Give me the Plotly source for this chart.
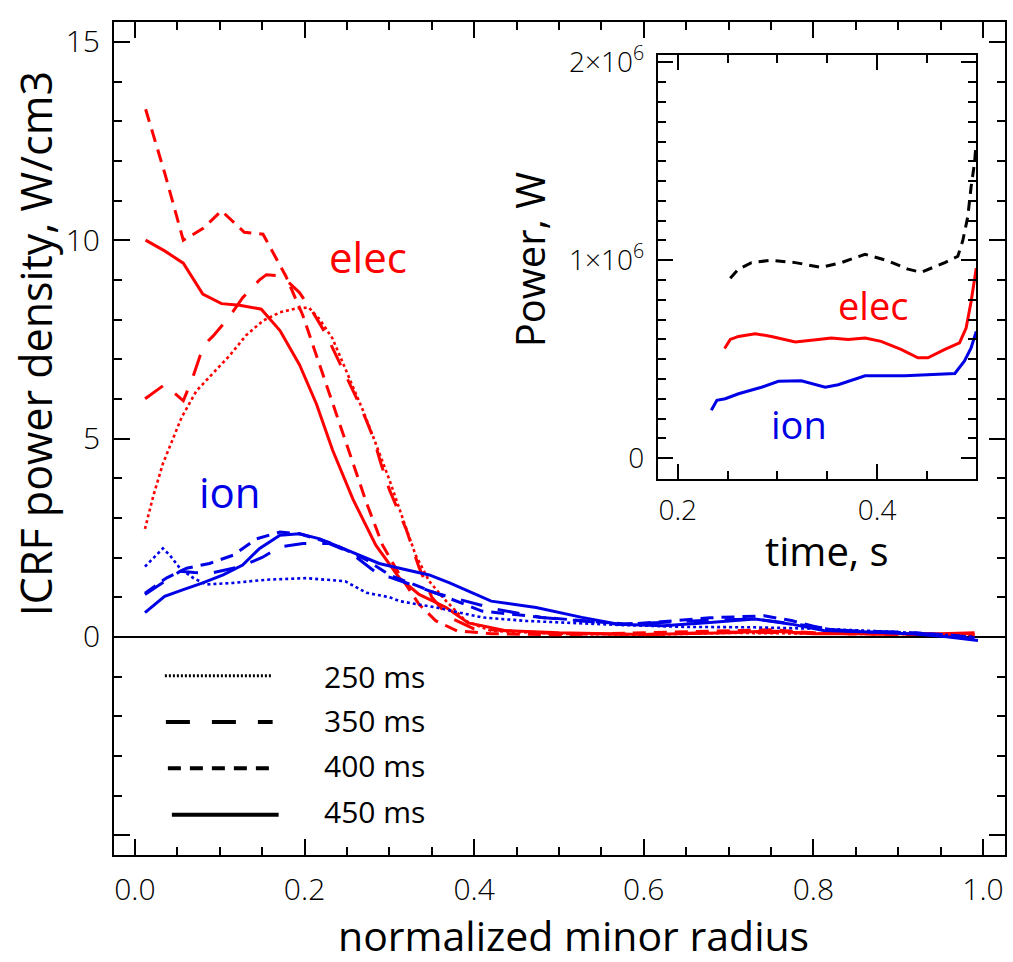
import plotly.graph_objects as go

# ---------------- radial power-density profiles (W/cm3) ----------------
# electron heating
e250_r = [0.0118, 0.0216, 0.033, 0.049, 0.055, 0.0725, 0.092, 0.112, 0.131, 0.151, 0.171, 0.19, 0.205,
          0.218, 0.233, 0.249, 0.269, 0.284, 0.3, 0.316, 0.331, 0.347, 0.367, 0.39, 0.42, 0.5, 0.6,
          0.7, 0.8, 0.9, 0.99]
e250_p = [2.72, 3.55, 4.37, 5.2, 5.53, 6.2, 6.65, 7.1, 7.6, 7.97, 8.18, 8.28, 8.3,
          8.0, 7.52, 6.69, 5.7, 4.87, 3.96, 2.97, 2.06, 1.40, 0.90, 0.4, 0.15, 0.08, 0.05,
          0.1, 0.08, 0.06, 0.05]

e350_r = [0.012, 0.035, 0.057, 0.068, 0.077, 0.083, 0.092, 0.111, 0.127, 0.147, 0.155, 0.173, 0.194,
          0.21, 0.225, 0.237, 0.249, 0.261, 0.273, 0.282, 0.29, 0.3, 0.31, 0.32, 0.335, 0.35, 0.37,
          0.4, 0.5, 0.6, 0.7, 0.8, 0.9, 0.99]
e350_p = [6.0, 6.36, 5.95, 6.53, 7.1, 7.39, 7.58, 8.06, 8.55, 9.0, 9.13, 9.1, 8.68,
          8.18, 7.64, 7.1, 6.6, 6.03, 5.45, 4.96, 4.37, 3.71, 3.2, 2.7, 1.75, 1.0, 0.5,
          0.2, 0.08, 0.06, 0.12, 0.1, 0.06, 0.08]

e400_r = [0.0126, 0.035, 0.057, 0.08, 0.102, 0.129, 0.151, 0.178, 0.198, 0.214, 0.233, 0.253, 0.273,
          0.292, 0.312, 0.335, 0.355, 0.38, 0.42, 0.5, 0.6, 0.7, 0.75, 0.8, 0.9, 0.99]
e400_p = [13.3, 11.7, 10.0, 10.29, 10.74, 10.2, 10.15, 9.09, 8.1, 7.1, 5.87, 4.62, 3.38,
          2.31, 1.56, 0.82, 0.40, 0.15, 0.08, 0.05, 0.1, 0.15, 0.18, 0.1, 0.06, 0.05]

e450_r = [0.0125, 0.035, 0.057, 0.08, 0.102, 0.1235, 0.149, 0.171, 0.194, 0.214, 0.233, 0.257, 0.284,
          0.312, 0.335, 0.367, 0.393, 0.436, 0.5, 0.6, 0.7, 0.75, 0.8, 0.9, 0.95, 0.99]
e450_p = [10.0, 9.73, 9.42, 8.64, 8.40, 8.36, 8.26, 7.72, 6.86, 5.87, 4.71, 3.47, 2.31,
          1.48, 1.07, 0.74, 0.35, 0.16, 0.1, 0.06, 0.1, 0.15, 0.08, 0.07, 0.08, 0.1]

# ion heating
i250_r = [0.0118, 0.033, 0.041, 0.053, 0.069, 0.084, 0.116, 0.155, 0.202, 0.248, 0.273, 0.3, 0.312,
          0.355, 0.409, 0.462, 0.57, 0.65, 0.73, 0.81, 0.9, 0.99]
i250_p = [1.77, 2.23, 2.06, 1.73, 1.48, 1.32, 1.36, 1.44, 1.48, 1.40, 1.11, 1.0, 0.90,
          0.74, 0.49, 0.40, 0.30, 0.25, 0.24, 0.2, 0.12, 0.0]

i350_r = [0.0118, 0.035, 0.053, 0.07, 0.088, 0.124, 0.15, 0.171, 0.198, 0.229, 0.253, 0.288, 0.301,
          0.355, 0.425, 0.479, 0.57, 0.62, 0.678, 0.731, 0.785, 0.84, 0.9, 0.95, 0.99]
i350_p = [1.07, 1.40, 1.65, 1.62, 1.6, 1.77, 2.0, 2.27, 2.35, 2.35, 2.14, 1.56, 1.5,
          1.1, 0.7, 0.49, 0.32, 0.36, 0.42, 0.45, 0.30, 0.15, 0.12, 0.05, -0.05]

i400_r = [0.0118, 0.037, 0.061, 0.088, 0.116, 0.143, 0.171, 0.194, 0.233, 0.273, 0.3, 0.339, 0.409,
          0.48, 0.58, 0.62, 0.678, 0.742, 0.774, 0.812, 0.866, 0.92, 0.96, 0.99]
i400_p = [1.1, 1.48, 1.73, 1.85, 2.06, 2.47, 2.64, 2.6, 2.35, 1.94, 1.56, 1.24, 0.65,
          0.49, 0.32, 0.38, 0.48, 0.53, 0.41, 0.2, 0.12, 0.1, 0.05, -0.02]

i450_r = [0.0118, 0.035, 0.057, 0.08, 0.104, 0.127, 0.147, 0.171, 0.194, 0.218, 0.241, 0.265, 0.288,
          0.312, 0.347, 0.371, 0.42, 0.473, 0.527, 0.57, 0.623, 0.678, 0.731, 0.774, 0.812, 0.866,
          0.919, 0.957, 0.994]
i450_p = [0.61, 1.02, 1.19, 1.36, 1.56, 1.81, 2.23, 2.56, 2.6, 2.47, 2.27, 2.06, 1.85,
          1.73, 1.56, 1.36, 0.90, 0.74, 0.49, 0.32, 0.28, 0.36, 0.45, 0.32, 0.16, 0.12,
          0.07, 0.0, -0.09]

# ---------------- integrated power vs time (W) ----------------
tot_t = [0.2527, 0.261, 0.274, 0.294, 0.318, 0.344, 0.364, 0.388, 0.411, 0.431, 0.444, 0.468,
         0.481, 0.486, 0.491, 0.4943, 0.4977, 0.4995]
tot_w = [0.909e6, 0.955e6, 0.988e6, 1.0e6, 0.988e6, 0.964e6, 0.988e6, 1.03e6, 0.997e6, 0.955e6,
         0.939e6, 0.988e6, 1.02e6, 1.1e6, 1.22e6, 1.37e6, 1.49e6, 1.60e6]

elec_t = [0.247, 0.2527, 0.261, 0.2777, 0.294, 0.318, 0.341, 0.354, 0.371, 0.388, 0.404, 0.424,
          0.441, 0.451, 0.468, 0.4827, 0.4893, 0.4943, 0.4995]
elec_w = [0.554e6, 0.6e6, 0.615e6, 0.629e6, 0.615e6, 0.587e6, 0.599e6, 0.607e6, 0.599e6, 0.607e6,
          0.59e6, 0.549e6, 0.507e6, 0.507e6, 0.549e6, 0.582e6, 0.657e6, 0.79e6, 0.96e6]

ion_t = [0.2337, 0.2393, 0.2477, 0.261, 0.284, 0.301, 0.324, 0.348, 0.361, 0.388, 0.428, 0.478,
         0.4877, 0.4943, 0.4995]
ion_w = [0.242e6, 0.292e6, 0.3e6, 0.325e6, 0.358e6, 0.388e6, 0.391e6, 0.358e6, 0.371e6, 0.416e6,
         0.416e6, 0.428e6, 0.491e6, 0.557e6, 0.64e6]

# tick labels
main_yticks = [-5, 0, 5, 10, 15]
main_ytext = ["", "0", "5", "10", "15"]
main_xticks = [0.0, 0.2, 0.4, 0.6, 0.8, 1.0]
main_xtext = ["0.0", "0.2", "0.4", "0.6", "0.8", "1.0"]
inset_yticks = [0, 1e6, 2e6]
inset_ytext = ["0", "1×10<sup>6</sup>", "2×10<sup>6</sup>"]
inset_xticks = [0.2, 0.4]
inset_xtext = ["0.2", "0.4"]

legend_labels = ["250 ms", "350 ms", "400 ms", "450 ms"]

RED = "#ff0000"
BLUE = "#0000e6"
FONT = "Open Sans"

W, H = 1013, 962
L, R, T, B = 114, 1007, 9, 855   # main frame in pixels


def px(xpix):
    return (xpix - L) / (R - L)


def py(ypix):
    return (B - ypix) / (B - T)


dash_styles = {
    "250": dict(dash="3px,3px", width=2.6),
    "350": dict(dash="22px,16px", width=3),
    "400": dict(dash="13px,8px", width=3),
    "450": dict(dash="solid", width=3),
}

fig = go.Figure()

profiles = [
    (e250_r, e250_p, RED, "250"), (e350_r, e350_p, RED, "350"),
    (e400_r, e400_p, RED, "400"), (e450_r, e450_p, RED, "450"),
    (i250_r, i250_p, BLUE, "250"), (i350_r, i350_p, BLUE, "350"),
    (i400_r, i400_p, BLUE, "400"), (i450_r, i450_p, BLUE, "450"),
]
for r, p, col, key in profiles:
    st = dash_styles[key]
    fig.add_trace(go.Scatter(x=r, y=p, mode="lines", showlegend=False,
                             line=dict(color=col, width=st["width"], dash=st["dash"]),
                             xaxis="x", yaxis="y"))

# inset traces
fig.add_trace(go.Scatter(x=tot_t, y=tot_w, mode="lines", showlegend=False, cliponaxis=False,
                         line=dict(color="black", width=3, dash="10px,7px"),
                         xaxis="x2", yaxis="y2"))
fig.add_trace(go.Scatter(x=elec_t, y=elec_w, mode="lines", showlegend=False,
                         line=dict(color=RED, width=3), xaxis="x2", yaxis="y2"))
fig.add_trace(go.Scatter(x=ion_t, y=ion_w, mode="lines", showlegend=False,
                         line=dict(color=BLUE, width=3), xaxis="x2", yaxis="y2"))

axis_common = dict(showline=True, linecolor="black", linewidth=2, mirror="ticks",
                   ticks="inside", tickcolor="black", tickwidth=2, showgrid=False)

ins_x0, ins_x1, ins_y0, ins_y1 = 659, 978, 43, 473

tick_font = dict(family=FONT, color="black", weight=300)

fig.update_layout(
    width=W, height=H,
    margin=dict(l=L, r=W - R, t=T, b=H - B),
    plot_bgcolor="white", paper_bgcolor="white",
    font=dict(family=FONT, color="black"),
    xaxis=dict(range=[-0.0247, 1.0259], tickvals=main_xticks, ticktext=main_xtext,
               ticklen=16, tickfont=dict(size=30, **tick_font), ticklabelstandoff=7,
               minor=dict(dtick=0.05, ticklen=8, ticks="inside", tickcolor="black", tickwidth=2),
               zeroline=False, **axis_common),
    yaxis=dict(range=[-5.5, 15.5], tickvals=main_yticks, ticktext=main_ytext,
               ticklen=16, tickfont=dict(size=30, **tick_font), ticklabelstandoff=6,
               minor=dict(dtick=1, ticklen=8, ticks="inside", tickcolor="black", tickwidth=2),
               zeroline=True, zerolinecolor="black", zerolinewidth=1.5, **axis_common),
    xaxis2=dict(domain=[px(ins_x0), px(ins_x1)], anchor="y2", range=[0.18, 0.4993],
                tickvals=inset_xticks, ticktext=inset_xtext, ticklen=15,
                tickfont=dict(size=28, **tick_font), ticklabelstandoff=6,
                minor=dict(dtick=0.05, ticklen=8, ticks="inside", tickcolor="black", tickwidth=2),
                zeroline=False, **axis_common),
    yaxis2=dict(domain=[py(ins_y1), py(ins_y0)], anchor="x2", range=[-0.105e6, 2.035e6],
                tickvals=inset_yticks, ticktext=inset_ytext, ticklen=15,
                tickfont=dict(size=28, **tick_font), ticklabelstandoff=6,
                minor=dict(dtick=1e5, ticklen=8, ticks="inside", tickcolor="black", tickwidth=2),
                zeroline=False, **axis_common),
)

shapes = [
    # white panel behind the inset
    dict(type="rect", xref="paper", yref="paper", x0=px(ins_x0), x1=px(ins_x1),
         y0=py(ins_y1), y1=py(ins_y0), fillcolor="white", line=dict(width=0), layer="below"),
]
# line-style key
key_rows = [(165, 272, 673, dict(dash="2px,2px", width=3)),
            (166, 273, 720, dict(dash="24px,22px", width=4)),
            (168, 276, 767, dict(dash="13px,9px", width=4)),
            (172, 279, 814, dict(dash="solid", width=4))]
for x0, x1, yy, st in key_rows:
    shapes.append(dict(type="line", xref="paper", yref="paper", x0=px(x0), x1=px(x1),
                       y0=py(yy), y1=py(yy), line=dict(color="black", width=st["width"], dash=st["dash"])))
fig.update_layout(shapes=shapes)

ann = []
for lab, yy in zip(legend_labels, [674, 718, 764, 811]):
    ann.append(dict(text=lab, x=px(322), y=py(yy), xref="paper", yref="paper",
                    xanchor="left", yanchor="middle", showarrow=False,
                    font=dict(size=30, color="black", family=FONT)))

# axis titles
ann.append(dict(text="normalized minor radius", x=px(575), y=py(936), xref="paper", yref="paper",
                xanchor="center", yanchor="middle", showarrow=False,
                font=dict(size=41, color="black", family=FONT)))
ann.append(dict(text="ICRF power density, W/cm3", x=px(36), y=py(336), xref="paper", yref="paper",
                xanchor="center", yanchor="middle", textangle=-90, showarrow=False,
                font=dict(size=43, color="black", family=FONT)))
ann.append(dict(text="Power, W", x=px(530), y=py(250), xref="paper", yref="paper",
                xanchor="center", yanchor="middle", textangle=-90, showarrow=False,
                font=dict(size=40, color="black", family=FONT)))
ann.append(dict(text="time, s", x=px(829), y=py(546), xref="paper", yref="paper",
                xanchor="center", yanchor="middle", showarrow=False,
                font=dict(size=40, color="black", family=FONT)))

# species labels
ann.append(dict(text="elec", x=px(369), y=py(247), xref="paper", yref="paper",
                xanchor="center", yanchor="middle", showarrow=False,
                font=dict(size=42, color=RED, family=FONT)))
ann.append(dict(text="ion", x=px(230), y=py(486), xref="paper", yref="paper",
                xanchor="center", yanchor="middle", showarrow=False,
                font=dict(size=42, color=BLUE, family=FONT)))
ann.append(dict(text="elec", x=px(875), y=py(296), xref="paper", yref="paper",
                xanchor="center", yanchor="middle", showarrow=False,
                font=dict(size=38, color=RED, family=FONT)))
ann.append(dict(text="ion", x=px(801), y=py(417), xref="paper", yref="paper",
                xanchor="center", yanchor="middle", showarrow=False,
                font=dict(size=38, color=BLUE, family=FONT)))
fig.update_layout(annotations=ann)

fig.write_html("out.html")
